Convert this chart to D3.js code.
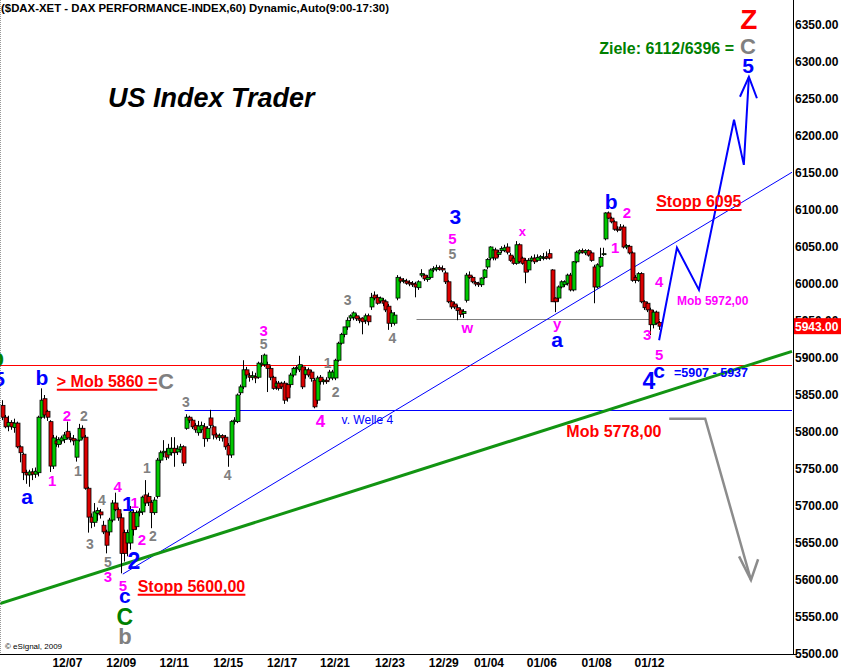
<!DOCTYPE html>
<html><head><meta charset="utf-8">
<script src="https://cdn.jsdelivr.net/npm/d3@7/dist/d3.min.js"></script>
<style>
body{margin:0;background:#fff;}
svg{display:block;font-family:"Liberation Sans",Arial,sans-serif;}
</style></head><body>
<svg id="c" width="841" height="672"></svg>
<script>
// ---------------- DATA ----------------
const open = [5836,5820,5808,5813,5806,5812,5780,5770,5745,5742,5746,5743,5745,5820,5845,5828,5814,5754,5788,5783,
5788,5790,5801,5792,5791,5766,5789,5805,5793,5724,5685,5678,5690,5692,5674,5665,5665,5681,5704,5695,
5684,5664,5650,5650,5691,5672,5691,5692,5715,5713,5705,5691,5713,5762,5772,5773,5769,5772,5778,5773,
5776,5780,5805,5820,5816,5809,5799,5803,5807,5791,5819,5807,5796,5793,5795,5793,5782,5769,5814,5814,
5853,5861,5884,5876,5874,5875,5874,5891,5891,5891,5886,5874,5861,5866,5866,5866,5864,5864,5877,5886,
5884,5888,5878,5884,5881,5870,5843,5874,5868,5870,5873,5873,5873,5897,5920,5932,5942,5954,5955,5957,
5953,5954,5951,5957,5969,5985,5982,5977,5978,5976,5970,5947,5947,5981,6007,6004,6004,6002,6001,6000,
5995,6012,6012,6006,6009,6019,6020,6022,6021,6015,6003,5976,5973,5968,5965,5960,5978,6012,6009,6002,
6001,5999,6009,6023,6035,6036,6046,6040,6045,6045,6050,6039,6035,6028,6053,6035,6032,6019,6032,6035,
6032,6035,6035,6037,6041,6019,5981,5981,5996,5999,6001,6012,5992,6030,6042,6045,6042,6045,6042,6023,
5996,6024,6040,6061,6096,6089,6084,6074,6077,6077,6050,6051,6042,6009,6005,6014,5976,5974,5965,5945,
5962,5948];
const high = [5843,5823,5822,5816,5818,5814,5782,5772,5749,5749,5751,5752,5822,5859,5850,5830,5816,5796,5795,5793,
5795,5800,5814,5799,5796,5790,5811,5809,5796,5726,5690,5704,5698,5696,5680,5668,5684,5708,5718,5698,
5690,5668,5668,5700,5695,5694,5697,5714,5735,5718,5708,5712,5765,5775,5789,5778,5784,5793,5793,5782,
5784,5782,5824,5822,5818,5812,5815,5814,5812,5808,5830,5809,5799,5798,5797,5796,5785,5816,5820,5852,
5864,5897,5888,5880,5882,5880,5895,5904,5906,5895,5889,5876,5869,5869,5868,5869,5866,5880,5888,5890,
5903,5891,5888,5887,5884,5873,5876,5877,5872,5874,5884,5884,5899,5922,5934,5942,5955,5959,5963,5960,
5956,5955,5960,5960,5988,5990,5986,5983,5981,5979,5973,5965,5962,6012,6010,6008,6007,6005,6004,6003,
6005,6020,6014,6012,6021,6024,6026,6025,6025,6018,6005,5978,5976,5972,5968,5966,6015,6017,6011,6004,
6003,6009,6020,6035,6051,6047,6049,6046,6051,6053,6055,6042,6038,6058,6055,6037,6035,6035,6038,6040,
6040,6039,6042,6044,6047,6020,5982,5998,6005,6005,6014,6015,6031,6045,6047,6048,6047,6047,6044,6026,
6028,6049,6049,6097,6098,6091,6086,6078,6081,6080,6054,6053,6044,6012,6016,6016,5978,5976,5968,5965,
5964,5950];
const low = [5816,5805,5801,5803,5799,5778,5759,5735,5730,5726,5735,5738,5740,5818,5818,5815,5746,5750,5780,5779,
5784,5785,5790,5786,5782,5760,5787,5790,5722,5664,5670,5672,5680,5683,5662,5636,5660,5678,5693,5680,
5609,5625,5632,5641,5660,5668,5686,5688,5700,5700,5670,5688,5710,5758,5766,5762,5764,5768,5753,5769,
5772,5754,5803,5812,5804,5799,5795,5799,5780,5787,5805,5790,5790,5788,5787,5776,5753,5765,5810,5812,
5850,5858,5872,5868,5870,5866,5872,5888,5888,5854,5870,5857,5857,5856,5858,5838,5841,5860,5874,5880,
5881,5858,5872,5874,5868,5832,5838,5864,5864,5865,5870,5870,5870,5895,5918,5928,5938,5950,5951,5950,
5947,5932,5946,5944,5965,5978,5972,5974,5970,5962,5938,5942,5944,5978,6001,6001,5999,5997,5996,5982,
5992,6009,6004,6003,6007,6016,6017,6018,6016,6000,5974,5966,5966,5951,5955,5954,5975,6007,6001,5997,
5996,5996,6007,6020,6032,6032,6032,6036,6042,6043,6040,6030,6026,6026,6028,6026,6001,6016,6030,6027,
6030,6031,6032,6033,6033,5976,5962,5976,5994,5996,5998,5990,5990,6028,6040,6041,6039,6037,6030,5974,
5994,6022,6038,6059,6088,6082,6072,6070,6072,6048,6047,6040,6003,6001,6003,5974,5965,5962,5931,5940,
5945,5938];
const close = [5820,5807,5813,5807,5812,5780,5772,5745,5742,5746,5743,5747,5820,5843,5823,5820,5754,5792,5784,5790,
5792,5796,5792,5790,5788,5789,5805,5793,5724,5685,5678,5692,5694,5688,5665,5647,5681,5704,5695,5684,
5636,5636,5664,5692,5668,5691,5693,5712,5704,5705,5691,5708,5762,5772,5774,5766,5778,5778,5772,5777,
5780,5758,5820,5816,5807,5803,5808,5809,5791,5805,5809,5796,5793,5795,5792,5780,5769,5814,5816,5850,
5861,5884,5877,5874,5876,5873,5893,5893,5904,5886,5874,5859,5866,5859,5861,5843,5846,5877,5886,5887,
5891,5861,5884,5877,5872,5834,5873,5868,5870,5868,5881,5881,5897,5920,5932,5942,5951,5957,5961,5953,
5951,5949,5957,5949,5982,5981,5974,5981,5974,5965,5947,5961,5958,6009,6004,6005,6001,6000,5999,5996,
6003,6014,6007,6009,6019,6021,6022,6020,6019,6003,5976,5969,5969,5964,5959,5963,6012,6009,6003,6000,
5999,6008,6019,6033,6050,6046,6035,6043,6048,6049,6043,6032,6028,6053,6030,6028,6016,6032,6035,6030,
6036,6037,6036,6035,6035,5976,5976,5996,6003,6003,6012,5992,6030,6043,6045,6043,6045,6039,6032,5996,
6026,6036,6041,6096,6089,6084,6074,6073,6074,6050,6052,6042,6005,6005,6014,5976,5968,5965,5945,5962,
5947,5943];

const dayTickIndex = [21.5, 39.6, 57.4, 75.6, 93.7, 111.5, 130, 148.1, 163.3, 181.1, 199.5, 217.3];
const dayTickLabels = ["12/07","12/09","12/11","12/15","12/17","12/21","12/23","12/29","01/04","01/06","01/08","01/12"];
const priceTicks = [5500,5550,5600,5650,5700,5750,5800,5850,5900,5950,6000,6050,6100,6150,6200,6250,6300,6350];
const lastPrice = 5943;

// horizontal levels: [fromIndex, toIndex, price]
const redLevel  = [-1.0, 265.4, 5890];
const blueLevel = [61.1, 265.4, 5830];
const grayLevel = [139.1, 221.0, 5953];
// trend lines [[index, price], [index, price]]
const greenTrend = [[-1.0, 5568], [265.4, 5909]];
const blueTrend  = [[40.3, 5608], [265.4, 6151]];
// projected paths
const forecastPath = [[220.7,5924],[226.7,6049],[234.1,5992],[245.9,6222],[249.2,6161],[250.9,6280]];
const forecastHead = [[247.9,6253],[250.9,6280],[253.6,6251]];
const downPath = [[224.1,5818],[236.2,5818],[251.6,5600]];
const downHead = [[247.6,5632],[251.6,5600],[254.0,5628]];

// wave labels: text, bar index, price (label centre), class
const waveLabels = [
 ["b",-2.0,5901,"greenBig"],["5",-1.3,5873,"blue"],["b",13.1,5874,"blue"],
 ["2",21.5,5822,"mag"],["2",27.2,5822,"gray"],["1",16.5,5734,"mag"],["1",25.2,5747,"gray"],
 ["a",8.1,5711,"blue"],["4",33.3,5708,"gray"],["3",29.2,5649,"gray"],["5",35.3,5624,"gray"],
 ["3",35.3,5604,"mag"],["4",38.6,5726,"mag"],["1",42.0,5704,"blue"],["1",44.3,5705,"mag"],
 ["2",46.7,5654,"mag"],["2",50.4,5659,"gray"],["2",44.0,5626,"blueL"],["1",48.4,5751,"gray"],
 ["5",40.3,5592,"mag"],["c",41.0,5576,"blue"],["C",41.0,5551,"greenBig"],["b",41.0,5524,"grayBig"],
 ["3",61.5,5841,"gray"],["4",75.6,5742,"gray"],["3",87.7,5937,"mag"],["5",87.7,5919,"gray"],
 ["1",109.2,5893,"gray"],["2",111.9,5854,"gray"],["4",106.8,5815,"mag17"],["3",115.9,5978,"gray"],
 ["4",131.0,5927,"gray"],["3",152.2,6091,"blue"],["5",151.2,6062,"mag"],["5",151.2,6041,"gray"],
 ["w",156.2,5939,"mag"],["x",174.7,6070,"magS"],["y",186.4,5942,"mag"],["a",186.4,5923,"blue"],
 ["b",204.6,6112,"blue"],["2",209.9,6096,"mag"],["1",205.9,6049,"mag"],["4",220.7,6003,"mag"],
 ["3",216.7,5932,"mag"],["5",220.7,5905,"mag"],["4",217.3,5869,"blueL"],["c",220.7,5881,"blue"],
 ["5",250.6,6296,"blue"],["C",250.6,6322,"grayBig"],["Z",250.9,6358,"redZ"],["C",54.8,5869,"grayBig"]
];
// notes: text, bar index (left/anchor), price (centre), class, underline
const notes = [
 ["> Mob 5860 =",18.1,5869,"red16",true],
 ["Stopp 5600,00",45.3,5592,"red16",true],
 ["Stopp 6095",219.7,6112,"red16",true],
 ["Mob 5778,00",189.5,5801,"red16",false],
 ["Mob 5972,00",226.7,5977,"mag12",false],
 ["=5907 - 5937",225.7,5880,"blue12",false],
 ["v. Welle 4",113.9,5816,"blueReg",false],
 ["Ziele: 6112/6396 =",245.9,6319,"green16",false],
 ["US Index Trader",35.3,6253,"brand",false]
];
const titleText = "($DAX-XET - DAX PERFORMANCE-INDEX,60) Dynamic,Auto(9:00-17:30)";
const creditText = "\u00A9 eSignal, 2009";

// ---------------- STYLES ----------------
const S = {
 mag:{size:15,color:"#ff00ff"}, mag17:{size:17,color:"#ff00ff"}, magS:{size:13,color:"#ff00ff"},
 gray:{size:14,color:"#808080"}, grayBig:{size:22,color:"#808080"},
 blue:{size:21,color:"#0000ff"}, blueL:{size:23,color:"#0000ff"},
 greenBig:{size:23,color:"#008000"}, redZ:{size:28,color:"#ff0000"},
 red16:{size:16,color:"#ff0000"}, mag12:{size:12,color:"#ff00ff"}, blue12:{size:12.5,color:"#0000ff"},
 blueReg:{size:12,color:"#0000ff",weight:"normal"}, green16:{size:16,color:"#008000",anchor:"end"},
 brand:{size:27,color:"#000",style:"italic"}
};

// ---------------- CHART ----------------
const W = 841, H = 672, plotR = 793, plotB = 654;
const svg = d3.select("#c");
const x = d3.scaleLinear().domain([0, open.length - 1]).range([3, 660]);
const y = d3.scaleLinear().domain([5500, 6350]).range([654, 25]);

svg.append("defs").append("clipPath").attr("id","clip")
  .append("rect").attr("x",0).attr("y",0).attr("width",plotR).attr("height",plotB);
const plot = svg.append("g").attr("clip-path","url(#clip)");

svg.append("line").attr("x1",0.5).attr("x2",0.5).attr("y1",0).attr("y2",plotB)
  .attr("stroke","#999").attr("stroke-dasharray","1,1");

const line = d3.line().x(d => x(d[0])).y(d => y(d[1]));

[[redLevel,"#ff0000"],[blueLevel,"#0000ff"],[grayLevel,"#808080"]].forEach(([lv,col]) => {
  plot.append("line").attr("x1",x(lv[0])).attr("x2",x(lv[1]))
    .attr("y1",Math.round(y(lv[2]))+0.5).attr("y2",Math.round(y(lv[2]))+0.5)
    .attr("stroke",col).attr("stroke-width",1);
});
plot.append("path").attr("d",line(blueTrend)).attr("stroke","#0000ff").attr("stroke-width",1).attr("fill","none");
plot.append("path").attr("d",line(greenTrend)).attr("stroke","#129412").attr("stroke-width",3).attr("fill","none");

// candles
const bars = open.map((o,i) => ({i, o, h: high[i], l: low[i], c: close[i]}));
const cg = plot.append("g");
cg.selectAll("line.w").data(bars).join("line").attr("class","w")
  .attr("x1", d => Math.round(x(d.i)) - 0.5).attr("x2", d => Math.round(x(d.i)) - 0.5)
  .attr("y1", d => y(d.h)).attr("y2", d => y(d.l))
  .attr("stroke","#000").attr("stroke-width",1);
cg.selectAll("rect.b").data(bars).join("rect").attr("class","b")
  .attr("x", d => Math.round(x(d.i)) - 2)
  .attr("width", 4)
  .attr("y", d => y(Math.max(d.o, d.c)))
  .attr("height", d => Math.max(1, Math.abs(y(d.o) - y(d.c))))
  .attr("fill", d => d.c >= d.o ? "#00c800" : "#dc0000")
  .attr("stroke","#000").attr("stroke-width",0.8);

plot.append("path").attr("d",line(forecastPath)).attr("stroke","#0000ff").attr("stroke-width",2).attr("fill","none");
plot.append("path").attr("d",line(forecastHead)).attr("stroke","#0000ff").attr("stroke-width",2).attr("fill","none");
plot.append("path").attr("d",line(downPath)).attr("stroke","#8c8c8c").attr("stroke-width",2.5).attr("fill","none");
plot.append("path").attr("d",line(downHead)).attr("stroke","#8c8c8c").attr("stroke-width",2.5).attr("fill","none");

function baseOff(t){ return /^[acwxmnosuvz]$/.test(t) ? 0.27 : (t === "y" ? 0.14 : 0.36); }
const lg = svg.append("g");
waveLabels.forEach(([t,i,p,k]) => {
  const s = S[k];
  lg.append("text").attr("x", x(i)).attr("y", y(p) + baseOff(t) * s.size)
    .attr("text-anchor","middle").attr("font-weight","bold")
    .attr("font-size", s.size + "px").attr("fill", s.color).text(t);
});
notes.forEach(([t,i,p,k,u]) => {
  const s = S[k];
  const tx = lg.append("text").attr("x", x(i)).attr("y", y(p) + 0.36 * s.size)
    .attr("text-anchor", s.anchor || "start").attr("font-weight", s.weight || "bold")
    .attr("font-style", s.style || "normal")
    .attr("font-size", s.size + "px").attr("fill", s.color).text(t);
  if (u) {
    const bb = tx.node().getBBox();
    const uy = y(p) + 0.36 * s.size + 3;
    lg.append("line").attr("x1", bb.x).attr("x2", bb.x + bb.width).attr("y1", uy).attr("y2", uy)
      .attr("stroke", s.color).attr("stroke-width", 2);
  }
});

const ya = svg.append("g").attr("transform",`translate(${plotR},0)`)
  .call(d3.axisRight(y).tickValues(priceTicks).tickFormat(d => d.toFixed(2)).tickSize(0).tickPadding(2));
ya.select(".domain").remove();
ya.selectAll("text").attr("font-size","12px").attr("font-weight","bold").attr("fill","#000")
  .attr("font-family","'Liberation Sans',Arial,sans-serif");
const xa = svg.append("g").attr("transform",`translate(0,${plotB})`)
  .call(d3.axisBottom(x).tickValues(dayTickIndex).tickFormat((d,k) => dayTickLabels[k]).tickSize(0).tickPadding(4));
xa.select(".domain").remove();
xa.selectAll("text").attr("font-size","12px").attr("font-weight","bold").attr("fill","#000")
  .attr("font-family","'Liberation Sans',Arial,sans-serif");

svg.append("line").attr("x1",plotR+0.5).attr("x2",plotR+0.5).attr("y1",0).attr("y2",plotB).attr("stroke","#000");
svg.append("line").attr("x1",0).attr("x2",plotR+4).attr("y1",plotB+0.5).attr("y2",plotB+0.5).attr("stroke","#000");

const ly = y(lastPrice);
svg.append("rect").attr("x",plotR+1).attr("y",ly-8).attr("width",W-plotR-1).attr("height",16).attr("fill","#ff0000");
svg.append("text").attr("x",plotR+2).attr("y",ly+4.5).attr("font-size","12px").attr("font-weight","bold")
  .attr("fill","#fff").text(lastPrice.toFixed(2));

svg.append("text").attr("x",1).attr("y",12).attr("font-size","11.4px").attr("font-weight","bold").attr("fill","#000").text(titleText);
svg.append("text").attr("x",5).attr("y",649).attr("font-size","8px").attr("fill","#000").text(creditText);
</script>
</body></html>
